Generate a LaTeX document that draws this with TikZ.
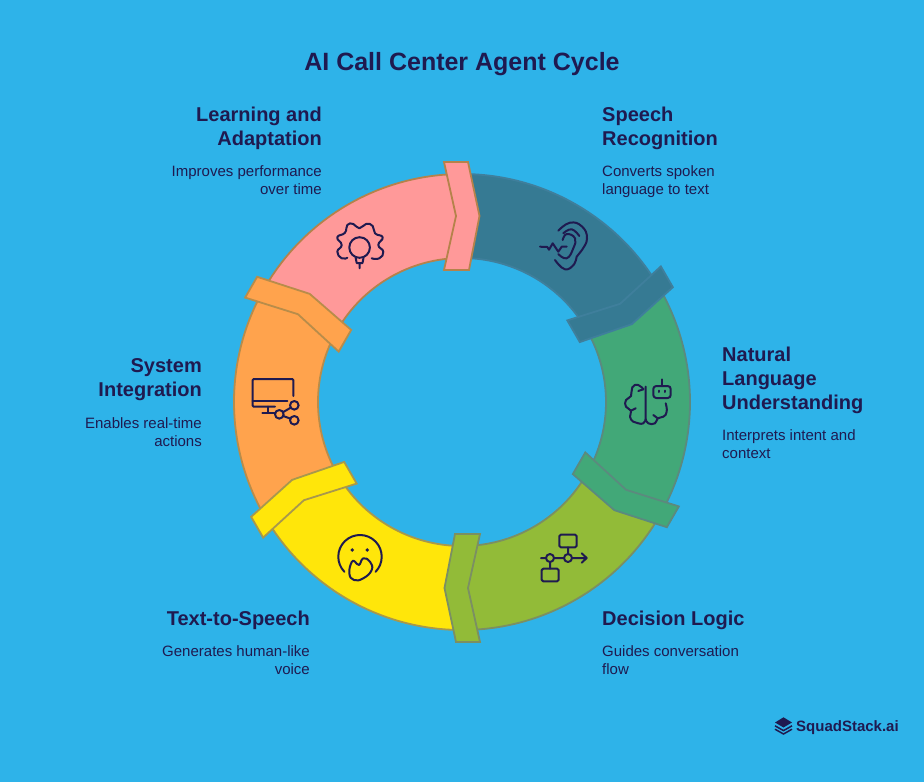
\documentclass[tikz,border=0pt]{standalone}
\usepackage{fontspec}
\setmainfont{Liberation Sans}
\usetikzlibrary{positioning}
\definecolor{skyback}{HTML}{2EB3E9}
\definecolor{inkblue}{HTML}{1F1A50}
\definecolor{pinkseg}{HTML}{FF9999}
\definecolor{pinkedge}{HTML}{B5824A}
\definecolor{tealseg}{HTML}{367A93}
\definecolor{tealedge}{HTML}{3F7F9C}
\definecolor{greenseg}{HTML}{42A878}
\definecolor{greenedge}{HTML}{5B8A7E}
\definecolor{oliveseg}{HTML}{92BB38}
\definecolor{oliveedge}{HTML}{7B8F63}
\definecolor{yellowseg}{HTML}{FFE60A}
\definecolor{yellowedge}{HTML}{A8984C}
\definecolor{orangeseg}{HTML}{FFA34D}
\definecolor{orangeedge}{HTML}{B88C4A}
\tikzset{
	headtext/.style={font=\fontsize{20}{24}\selectfont\bfseries,text=inkblue,inner sep=0pt},
	desctext/.style={font=\fontsize{15}{18}\selectfont,text=inkblue,inner sep=0pt},
	iconline/.style={draw=inkblue,line width=2pt,line cap=round,line join=round}
}
\begin{document}
\begin{tikzpicture}[x=1pt,y=-1pt]
	\fill[skyback] (0,0) rectangle (924,782);
	\useasboundingbox (0,0) rectangle (924,782);
	\node[font=\fontsize{25}{30}\selectfont\bfseries,text=inkblue,inner sep=0pt] (title) at (462,64) {AI Call Center Agent Cycle};
	\foreach \i/\segcol/\edgecol in {0/pinkseg/pinkedge,1/tealseg/tealedge,2/greenseg/greenedge,3/oliveseg/oliveedge,4/yellowseg/yellowedge,5/orangeseg/orangeedge}{
		\begin{scope}[shift={(462,402)},rotate=-\i*60]
			\draw[fill=\segcol,draw=\edgecol,line width=1.8pt] (210:228) arc[start angle=210,end angle=270,radius=228] -- (270:144) arc[start angle=270,end angle=210,radius=144] -- cycle;
		\end{scope}
	}
	\foreach \i/\segcol/\edgecol in {0/pinkseg/pinkedge,1/tealseg/tealedge,2/greenseg/greenedge,3/oliveseg/oliveedge,4/yellowseg/yellowedge,5/orangeseg/orangeedge}{
		\begin{scope}[shift={(462,402)},rotate=-\i*60]
			\draw[fill=\segcol,draw=\edgecol,line width=1.8pt,line join=miter] (-18,-240) -- (6,-240) -- (17.5,-186) -- (7,-132) -- (-18,-132) -- (-6,-186) -- cycle;
		\end{scope}
	}
	% labels
	\node[headtext,align=right,anchor=north east] (learnhead) at (322,106.5) {Learning and\\Adaptation};
	\node[desctext,align=right,below=16pt of learnhead.south east,anchor=north east] (learndesc) {Improves performance\\over time};
	\node[headtext,align=left,anchor=north west] (speechhead) at (602,106.5) {Speech\\Recognition};
	\node[desctext,align=left,below=16pt of speechhead.south west,anchor=north west] (speechdesc) {Converts spoken\\language to text};
	\node[headtext,align=left,anchor=north west] (nluhead) at (722,346.5) {Natural\\Language\\Understanding};
	\node[desctext,align=left,below=16pt of nluhead.south west,anchor=north west] (nludesc) {Interprets intent and\\context};
	\node[headtext,align=right,anchor=north east] (syshead) at (202,358.5) {System\\Integration};
	\node[desctext,align=right,below=16pt of syshead.south east,anchor=north east] (sysdesc) {Enables real-time\\actions};
	\node[headtext,align=right,anchor=north east] (ttshead) at (310,610.5) {Text-to-Speech};
	\node[desctext,align=right,below=16pt of ttshead.south east,anchor=north east] (ttsdesc) {Generates human-like\\voice};
	\node[headtext,align=left,anchor=north west] (logichead) at (602,610.5) {Decision Logic};
	\node[desctext,align=left,below=16pt of logichead.south west,anchor=north west] (logicdesc) {Guides conversation\\flow};
	% gear and bulb
	\draw[iconline] plot[smooth,tension=0.9] coordinates {(347.3,257.7) (341.7,258.3) (337.3,251.7) (341.7,245) (337.3,237.3) (345,232.7) (347.3,225) (353.3,224) (359.3,228.3) (366,224) (372.7,226) (375,233.3) (382.7,237.3) (378.3,245) (383.3,251.7) (379.3,258.3) (371.7,258.3)};
	\draw[iconline] (359.6,247.5) circle[radius=10.3];
	\draw[iconline] (355.7,258) -- (356.7,263) -- (362.5,263) -- (363.5,258) (359.6,263) -- (359.6,268.3);
	% ear
	\draw[iconline] plot[smooth,tension=0.8] coordinates {(558.3,230.7) (570,222.7) (582,226.5) (587,238.3) (582,250) (576.7,256.7) (574.3,264) (565,269.3) (555,260)};
	\draw[iconline] plot[smooth,tension=0.8] coordinates {(579.3,236) (571.7,229.3) (563.3,233.3)};
	\draw[iconline] plot[smooth,tension=0.8] coordinates {(562.7,240) (566.7,234) (575,238.3) (573.3,248.3) (566.7,258.3) (558.3,254)};
	\draw[iconline] (540,246.7) -- (547.3,247) -- (549,249.7) -- (552.7,243.3) -- (558.3,251.7) -- (561.7,246.7) -- (566.7,246.7);
	% brain and robot
	\draw[iconline] plot[smooth,tension=0.9] coordinates {(643.3,389.3) (638.3,385) (632.3,387.3) (631,396) (626,400) (626,406.7) (631,410.7) (630,416.7) (633.3,421.7) (638.3,423.3) (643.3,423.3) (645.7,419.3)};
	\draw[iconline] plot[smooth,tension=0.9] coordinates {(645.7,419.3) (648.3,423.3) (655,423.3) (657.7,418.3) (663.3,416.7) (666.7,411.7) (665.7,403.3)};
	\draw[iconline] (645.7,386.7) -- (645.7,419.3) (631,410.7) -- (635.7,408.3) (657.7,418.3) -- (653.3,415) (638.3,391) -- (643.3,389.3);
	\draw[iconline,rounded corners=3pt] (653.3,386) rectangle (670.7,398);
	\draw[iconline] (662,386) -- (662,379.3) (659.2,390.5) -- (659.2,392) (665,390.5) -- (665,392);
	% monitor and share
	\draw[iconline,rounded corners=1pt] (293.3,396) -- (293.3,379) -- (252.7,379) -- (252.7,406.7) -- (275,406.7);
	\draw[iconline] (252.7,400.7) -- (287.3,400.7) (268.3,406.7) -- (268.3,412.7) (262.3,412.7) -- (275,412.7);
	\draw[iconline] (294.3,405.3) circle[radius=4.3] (279.3,414.3) circle[radius=4.3] (294.3,420.3) circle[radius=4.3];
	\draw[iconline] (283.3,412) -- (290.7,407.7) (283.3,416) -- (290.3,418.6);
	% face
	\draw[iconline] (360,556.7) ++(136:21.7) arc[start angle=136,end angle=404,radius=21.7];
	\fill[inkblue] (352.3,550) circle[radius=1.9] (367.3,550) circle[radius=1.9];
	\draw[iconline] plot[smooth cycle,tension=0.8] coordinates {(351.7,562) (349.3,573.3) (354,580) (363.3,578.3) (371.7,570) (370,561.7) (363.3,558.3) (359,565) (355,561.7)};
	% flow
	\draw[iconline,rounded corners=1.5pt] (559.3,534.7) rectangle (576.7,547.3) (541.7,568.7) rectangle (558.7,581.3);
	\draw[iconline] (550,558) circle[radius=4] (568,558) circle[radius=4];
	\draw[iconline] (541,558) -- (546,558) (554,558) -- (564,558) (572,558) -- (586.7,558) (581.7,553.3) -- (586.7,558) -- (581.7,562.7) (568,547.3) -- (568,554) (550,562) -- (550,568.7);
	% logo
	\fill[inkblue] (783.5,717.3) -- (792,722.5) -- (783.5,727.5) -- (775,722.5) -- cycle;
	\draw[inkblue,line width=1.5pt] (775,725.8) -- (783.5,730.6) -- (792,725.8) (775,729.2) -- (783.5,734) -- (792,729.2);
	\node[font=\fontsize{15}{18}\selectfont\bfseries,text=inkblue,inner sep=0pt,anchor=west] (logotext) at (796,727.5) {SquadStack.ai};
\end{tikzpicture}
\end{document}
